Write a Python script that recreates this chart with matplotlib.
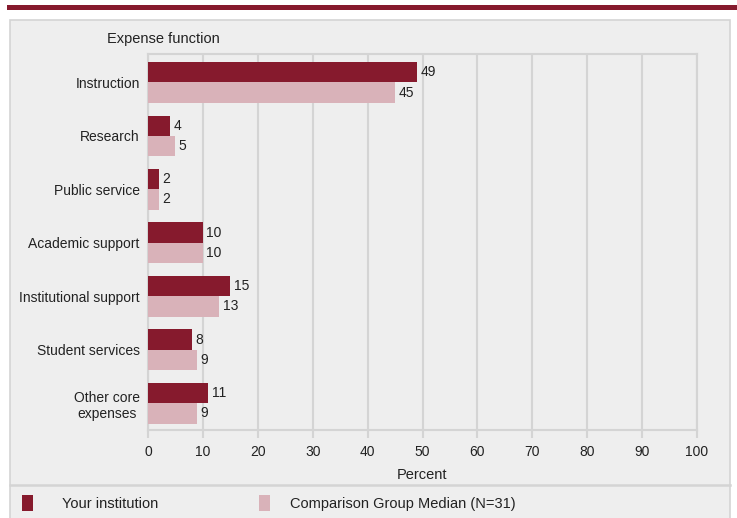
import matplotlib.pyplot as plt
import matplotlib.patches as mpatches
import numpy as np

plt.rcParams['font.family'] = ['Liberation Sans', 'DejaVu Sans']

categories = ['Instruction', 'Research', 'Public service', 'Academic support',
              'Institutional support', 'Student services', 'Other core\nexpenses']
your_inst = [49, 4, 2, 10, 15, 8, 11]
comparison = [45, 5, 2, 10, 13, 9, 9]
xticks = [0, 10, 20, 30, 40, 50, 60, 70, 80, 90, 100]

dark = '#861a2d'
light = '#d9b2b9'
panel = '#eeeeee'
edge = '#d4d4d4'

W, H = 737, 518
fig = plt.figure(figsize=(W / 100, H / 100), dpi=100)
fig.patch.set_facecolor('white')


def fx(px):
    return px / W


def fy(py):
    return 1 - py / H


# top band and grey panel
fig.patches.append(mpatches.Rectangle((fx(7), fy(10)), 1, 5 / H, transform=fig.transFigure,
                                      facecolor=dark, edgecolor='none'))
fig.patches.append(mpatches.Rectangle((fx(10), fy(530)), fx(720), 510 / H, transform=fig.transFigure,
                                      facecolor=panel, edgecolor=edge, lw=1.2, zorder=-5))
fig.lines.append(plt.Line2D([fx(10), fx(730)], [fy(485), fy(485)], transform=fig.transFigure,
                            color=edge, lw=1.8, zorder=-4))

ax = fig.add_axes([fx(148), fy(430), fx(697) - fx(148), (430 - 54) / H])
ax.set_facecolor(panel)

y = np.arange(len(categories))
h = 0.38
ax.barh(y - h / 2, your_inst, height=h, color=dark, zorder=3)
ax.barh(y + h / 2, comparison, height=h, color=light, zorder=3)
for i in range(len(categories)):
    ax.text(your_inst[i] + 0.6, y[i] - h / 2, str(your_inst[i]), va='center', ha='left',
            fontsize=10, color='#222222')
    ax.text(comparison[i] + 0.6, y[i] + h / 2, str(comparison[i]), va='center', ha='left',
            fontsize=10, color='#222222')

ax.set_xlim(0, 100)
ax.set_ylim(len(categories) - 0.5, -0.53)
ax.set_xticks(xticks)
ax.set_xticklabels([str(t) for t in xticks], fontsize=10, color='#222222')
ax.set_yticks(y)
ax.set_yticklabels(categories, fontsize=10, color='#222222', multialignment='center')
ax.tick_params(axis='y', length=0, pad=6)
ax.tick_params(axis='x', length=6, width=1.5, color=edge, pad=5)
ax.grid(axis='x', color=edge, lw=1.5, zorder=0)
for s in ax.spines.values():
    s.set_color(edge)
    s.set_linewidth(1.5)
ax.set_xlabel('Percent', fontsize=10.5, color='#222222', labelpad=6)

fig.text(fx(107), fy(39), 'Expense function', fontsize=10.5, va='center', ha='left', color='#222222')

# legend
fig.patches.append(mpatches.Rectangle((fx(22), fy(511)), 11 / W, 16 / H, transform=fig.transFigure,
                                      facecolor=dark, edgecolor='none'))
fig.text(fx(62), fy(504), 'Your institution', fontsize=10.5, va='center', color='#222222')
fig.patches.append(mpatches.Rectangle((fx(259), fy(511)), 11 / W, 16 / H, transform=fig.transFigure,
                                      facecolor=light, edgecolor='none'))
fig.text(fx(290), fy(504), 'Comparison Group Median (N=31)', fontsize=10.5, va='center', color='#222222')

fig.savefig('out.png', dpi=100, facecolor=fig.get_facecolor())
